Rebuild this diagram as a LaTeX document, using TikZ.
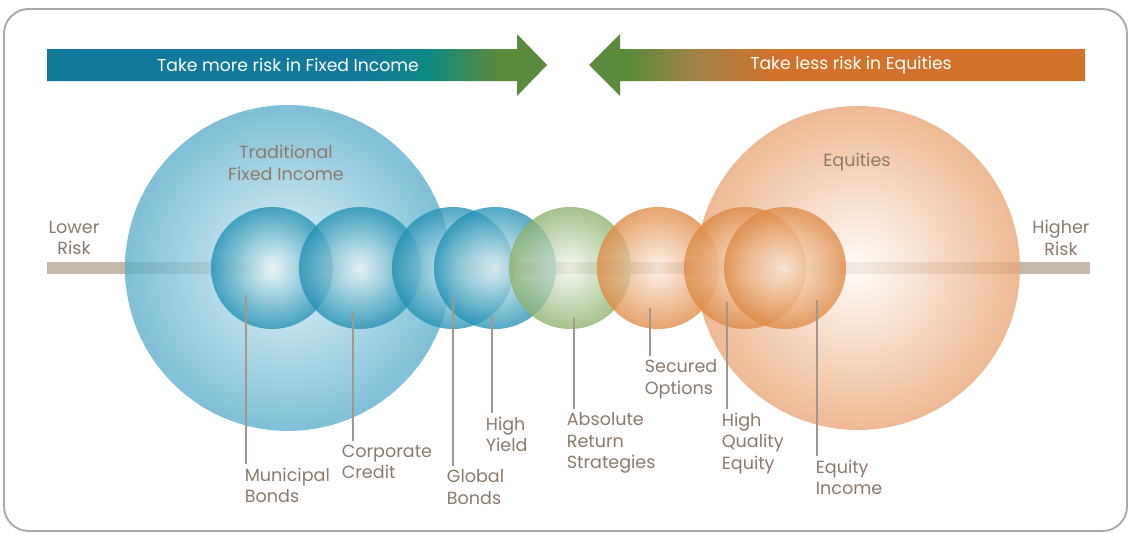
\documentclass[tikz,border=0pt]{standalone}
\usepackage{fontspec}
\setmainfont{Poppins}
\usepackage{tikz}
\usetikzlibrary{calc, positioning}

\definecolor{framegray}{HTML}{A9A9AB}
\definecolor{riskline}{HTML}{C4B8AB}
\definecolor{labeltext}{HTML}{8A7A6C}
\definecolor{stemline}{HTML}{A3978B}
\definecolor{fiblue}{HTML}{13799B}
\definecolor{fiteal}{HTML}{0E8A84}
\definecolor{figreen}{HTML}{5A8A3B}
\definecolor{eqbrown}{HTML}{A4824A}
\definecolor{eqorange}{HTML}{D3722A}
\definecolor{bigbluein}{HTML}{DCEFF6}
\definecolor{bigblueout}{HTML}{5AAECB}
\definecolor{bluein}{HTML}{F4FAFC}
\definecolor{blueout}{HTML}{2190B2}
\definecolor{greenin}{HTML}{F2F7EE}
\definecolor{greenout}{HTML}{8CB06C}
\definecolor{orangein}{HTML}{FCEFE4}
\definecolor{orangeout}{HTML}{DE8944}
\definecolor{bigorangein}{HTML}{FFFAF5}
\definecolor{bigorangeout}{HTML}{E9A676}

\pgfdeclarehorizontalshading{fixedshade}{100bp}{color(0bp)=(fiblue); color(56bp)=(fiblue); color(63bp)=(fiteal); color(70bp)=(figreen); color(100bp)=(figreen)}
\pgfdeclarehorizontalshading{equityshade}{100bp}{color(0bp)=(figreen); color(29bp)=(figreen); color(36bp)=(eqbrown); color(44bp)=(eqorange); color(100bp)=(eqorange)}

\begin{document}
\begin{tikzpicture}[x=0.02cm, y=-0.02cm,
    bubble/.style={circle, inner sep=0pt, fill opacity=0.78},
    bluebig/.style={bubble, minimum size=6.52cm, shade, inner color=bigbluein, outer color=bigblueout},
    bluebub/.style={bubble, minimum size=2.44cm, shade, inner color=bluein, outer color=blueout},
    greenbub/.style={bubble, minimum size=2.44cm, shade, inner color=greenin, outer color=greenout},
    orangebub/.style={bubble, minimum size=2.44cm, shade, inner color=orangein, outer color=orangeout},
    orangebig/.style={bubble, minimum size=6.48cm, shade, inner color=bigorangein, outer color=bigorangeout},
    stem/.style={stemline, line width=0.9pt},
    tag/.style={text=labeltext, font=\fontsize{10}{12.2}\selectfont, align=left, inner sep=2pt},
    banner/.style={text=white, font=\fontsize{9.8}{11}\selectfont}]

    % frame and bounding box
    \useasboundingbox (0,0) rectangle (1130,534);
    \draw[framegray, line width=1.1pt, rounded corners=14pt] (4,9) rectangle (1127,531);

    % the two arrows at the top
    \shade[shading=fixedshade] (47,49) -- (517,49) -- (517,34) -- (547,65)
        -- (517,96) -- (517,81) -- (47,81) -- cycle;
    \shade[shading=equityshade] (1085,49) -- (620,49) -- (620,34) -- (589,65)
        -- (620,96) -- (620,81) -- (1085,81) -- cycle;
    \node[banner] (fixedtext) at (288,65) {Take more risk in Fixed Income};
    \node[banner] (equitytext) at (851,65) {Take less risk in Equities};

    % risk axis
    \draw[riskline, line width=6.8pt] (47,268) -- (1090,268);
    \node[tag, align=center] (lower) at (74,238) {Lower\\Risk};
    \node[tag, align=center] (higher) at (1061,238) {Higher\\Risk};

    % large circles
    \node[bluebig] (fixedincome) at (288,268) {};
    \node[orangebig] (equities) at (858,268) {};
    \node[tag, align=center] (fixedname) at (286,163) {Traditional\\Fixed Income};
    \node[tag] (equityname) at (857,162) {Equities};

    % small circles, left to right
    \node[bluebub] (municipal) at (272,268) {};
    \node[bluebub] (corporate) at (360,268) {};
    \node[bluebub] (global) at (453,268) {};
    \node[bluebub] (highyield) at (495,268) {};
    \node[greenbub] (absolute) at (570,268) {};
    \node[orangebub] (secured) at (658,268) {};
    \node[orangebub] (quality) at (745,268) {};
    \node[orangebub] (income) at (785,268) {};

    % label texts
    \node[tag, anchor=north west] (municipal-l) at (241,464) {Municipal\\Bonds};
    \node[tag, anchor=north west] (corporate-l) at (338,441) {Corporate\\Credit};
    \node[tag, anchor=north west] (global-l) at (443,466) {Global\\Bonds};
    \node[tag, anchor=north west] (highyield-l) at (482,413) {High\\Yield};
    \node[tag, anchor=north west] (absolute-l) at (563,409) {Absolute\\Return\\Strategies};
    \node[tag, anchor=north west] (secured-l) at (641,356) {Secured\\Options};
    \node[tag, anchor=north west] (quality-l) at (718,409) {High\\Quality\\Equity};
    \node[tag, anchor=north west] (income-l) at (812,456) {Equity\\Income};

    % stems from the circles down to the labels
    \coordinate (municipal-t) at (246,295);
    \coordinate (corporate-t) at (353,312);
    \coordinate (global-t) at (453,298);
    \coordinate (highyield-t) at (492,316);
    \coordinate (absolute-t) at (574,318);
    \coordinate (secured-t) at (650,308);
    \coordinate (quality-t) at (727,302);
    \coordinate (income-t) at (817,300);
    \foreach \n in {municipal, corporate, global, highyield, absolute, secured, quality, income}
        \draw[stem] (\n-t) -- (\n-t |- \n-l.north);

\end{tikzpicture}
\end{document}
